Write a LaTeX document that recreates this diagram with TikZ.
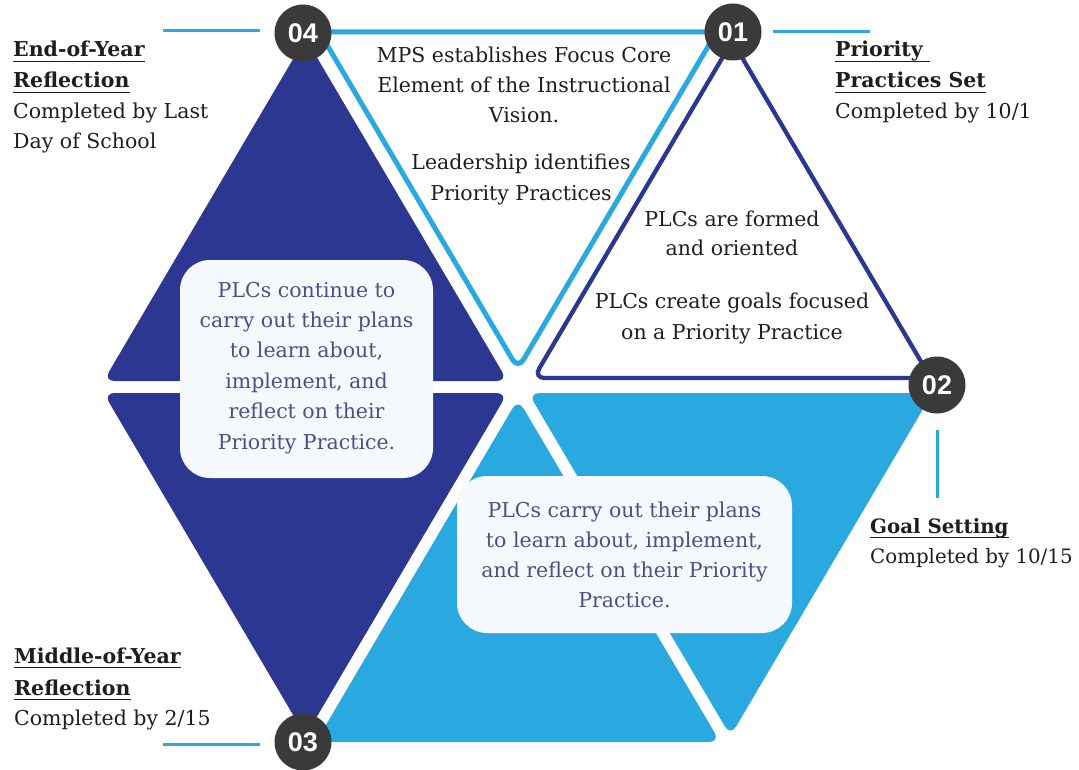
\documentclass[tikz,border=0pt]{standalone}
\usepackage{fontspec}
\setmainfont{DejaVu Serif}
\newfontfamily\numfont{Liberation Sans}
\definecolor{navy}{HTML}{2C3792}
\definecolor{sky}{HTML}{29A9E0}
\definecolor{disc}{HTML}{3A3A3A}
\definecolor{boxfill}{HTML}{F5F9FD}
\definecolor{boxtext}{HTML}{4B4F86}
\definecolor{ink}{HTML}{1E1E1E}
% bold heading with a rule just under the baseline
\newcommand\hd[1]{\setbox0=\hbox{\bfseries #1}\rlap{\rule[-5pt]{\wd0}{1.4pt}}\box0}
\begin{document}
\begin{tikzpicture}[x=1pt,y=-1pt,
  body/.style={font=\fontsize{20.5}{24}\selectfont, text=ink, inner sep=0pt, anchor=base},
  lab/.style={body, anchor=base west},
  smalllab/.style={lab, font=\fontsize{19.8}{24}\selectfont},
  boxtxt/.style={body, text=boxtext},
  panel/.style={fill=boxfill, rounded corners=30pt, inner sep=0pt},
  disc/.style={circle, fill=disc, minimum size=57pt, inner sep=0pt, text=white,
    font=\numfont\bfseries\fontsize{27}{27}\selectfont},
  leader/.style={sky, line width=3pt},
  tri/.style={rounded corners=11pt}]
\useasboundingbox (0,0) rectangle (1079,770);
\fill[white] (0,0) rectangle (1079,770);

% six triangles of the hexagon
\draw[tri, sky, line width=5pt] (518,369) -- (319.4,32) -- (716.6,32) -- cycle;
\draw[tri, navy, line width=4.3pt] (533.6,378) -- (732.3,41) -- (930.7,378) -- cycle;
\fill[tri, sky] (528.4,393) -- (932.5,393) -- (730.5,736) -- cycle;
\fill[tri, sky] (518,399) -- (720.1,742) -- (315.9,742) -- cycle;
\fill[tri, navy] (507.6,393) -- (305.5,736) -- (103.5,393) -- cycle;
\fill[tri, navy] (507.6,381) -- (103.5,381) -- (305.5,38) -- cycle;

% text panels
\node[panel, minimum width=253pt, minimum height=218pt] (leftpanel) at (306.5,369) {};
\node[panel, minimum width=335pt, minimum height=157pt] (lowpanel) at (624.5,554.5) {};

% step 1 text
\foreach \s [count=\i] in {MPS establishes Focus Core, Element of the Instructional, Vision.}
  \node[body] (stepa-\i) at (524,63+30*\i-30) {\s};
\foreach \s [count=\i] in {Leadership identifies, Priority Practices}
  \node[body] (stepb-\i) at (521,170+31*\i-31) {\s};
% step 2 text
\foreach \s [count=\i] in {PLCs are formed, and oriented}
  \node[body] (stepc-\i) at (732,226+29*\i-29) {\s};
\foreach \s [count=\i] in {PLCs create goals focused, on a Priority Practice}
  \node[body] (stepd-\i) at (732,308+31*\i-31) {\s};
% panel texts
\foreach \s [count=\i] in {PLCs continue to, carry out their plans, {to learn about,}, {implement, and}, reflect on their, Priority Practice.}
  \node[boxtxt] (lp-\i) at (leftpanel.center |- 0,297+30.4*\i-30.4) {\s};
\foreach \s [count=\i] in {PLCs carry out their plans, {to learn about, implement,}, and reflect on their Priority, Practice.}
  \node[boxtxt] (bp-\i) at (lowpanel.center |- 0,517+30.3*\i-30.3) {\s};

% numbered discs
\node[disc] (n04) at (303,33) {04};
\node[disc] (n01) at (733,32) {01};
\node[disc] (n02) at (937,385) {02};
\node[disc] (n03) at (303,742) {03};

% leader lines
\coordinate (a4) at (163,31); \coordinate (b4) at (260,31);
\coordinate (a1) at (773,32); \coordinate (b1) at (870,32);
\coordinate (a2) at (937,430); \coordinate (b2) at (937,498);
\coordinate (a3) at (163,744); \coordinate (b3) at (260,744);
\draw[leader] (a4) -- (b4);
\draw[leader] (a1) -- (b1);
\draw[leader] (a2) -- (b2);
\draw[leader] (a3) -- (b3);

% milestone labels
\node[lab] (eoy-1) at (13,57) {\hd{End-of-Year}};
\node[lab] (eoy-2) at (13,88) {\hd{Reflection}};
\node[lab] (eoy-3) at (13,119) {Completed by Last};
\node[lab] (eoy-4) at (13,149) {Day of School};
\node[lab] (pps-1) at (835,57) {\hd{Priority\ }};
\node[lab] (pps-2) at (835,88) {\hd{Practices Set}};
\node[lab] (pps-3) at (835,119) {Completed by 10/1};
\node[smalllab] (gs-1) at (870,533) {\hd{Goal Setting}};
\node[smalllab] (gs-2) at (870,563) {Completed by 10/15};
\node[lab] (moy-1) at (14,663) {\hd{Middle-of-Year}};
\node[lab] (moy-2) at (14,695) {\hd{Reflection}};
\node[lab] (moy-3) at (14,725) {Completed by 2/15};
\end{tikzpicture}
\end{document}
